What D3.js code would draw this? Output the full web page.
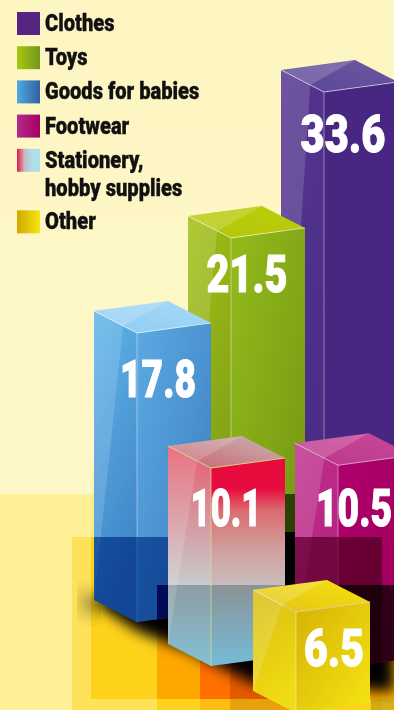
<!DOCTYPE html>
<html>
<head>
<meta charset="utf-8">
<script src="https://cdn.jsdelivr.net/npm/d3@7"></script>
<style>
html,body{margin:0;padding:0;background:#fff7c4;overflow:hidden}
svg{display:block}
text{font-family:Roboto,sans-serif;font-weight:900}
</style>
</head>
<body>
<svg id="chart" width="394" height="710"></svg>
<script>
// Share of purchases by category
const categories = ["Clothes","Toys","Goods for babies","Footwear","Stationery, hobby supplies","Other"];
const shares = [33.6,21.5,17.8,10.5,10.1,6.5];
const valueLabels = ["33.6","21.5","17.8","10.5","10.1","6.5"];
const legendLines = [["Clothes"],["Toys"],["Goods for babies"],["Footwear"],["Stationery,","hobby supplies"],["Other"]];
const legendSlots = [0,1,2,3,4,5.8];

const frontStops = [
  ["#482783","#472683"],["#93bb1c","#749612"],["#5caae2","#3a7cc0"],
  ["#b0006f","#990058"],null,["#d4b206","#f6e512"]];
const sideStops = [
  ["#553590","#4a2c86"],["#a2c012","#7e9e18"],["#5fb6ea","#3f84c6"],
  ["#c2308e","#b01f7c"],null,["#d8bc12","#f0dc14"]];
const topStops = [
  ["#5a4596","#6d58a2"],["#b4c60c","#bccd0a"],["#8fcbf2","#a8daf8"],
  ["#bc358c","#c84a96"],["#c9626c","#c9b6b6"],["#e2c216","#f6e210"]];
const swatchStops = [
  ["#55257f","#55257f"],["#a8c810","#73961c"],["#4faae2","#33609f"],
  ["#b62a8a","#a8005f"],["#e81640","#c4bcc4","#aedeea","#aedeea"],["#cfa800","#f8e612"]];
const stationeryFront = [[0.05,"#e80a3c"],[0.15,"#e60c40"],[0.25,"#dc6a6e"],[0.44,"#d0a09e"],[0.61,"#c8bcbc"],[0.61,"#8c9296"],[1,"#74bcd8"]];
const stationerySide = [[0,"#e65a6e"],[0.3,"#d89098"],[0.63,"#c6cccc"],[0.63,"#8c9ea4"],[1,"#84c0d2"]];

const svg = d3.select("#chart");
const defs = svg.append("defs");
const W = 394, H = 710;

// Screen placement of each column: front vertical edge and where it meets the floor
const frontX = d3.scaleOrdinal(categories,[324,231,137,338,211,296]);
const floorY = d3.scaleOrdinal(categories,[552,567,622,668,666,713]);
const heightOf = d3.scaleLinear().domain([6.5,10.1,17.8,33.6]).range([101,198,289,460]);
const labelX = d3.scaleOrdinal(categories,[343,247,158,354,226,334]);
const labelRise = d3.scaleOrdinal(categories,[60,54,64,61,58,54]);
const labelWidth = d3.scaleOrdinal(categories,[85,81,76,76,71,60]);

const leftVec = [-43,-22], rightVec = [74,-10];
const poly = d3.line();
const legendSqueeze = 0.875;

function gradient(id, stops, x1,y1,x2,y2){
  const g = defs.append("linearGradient").attr("id",id)
    .attr("x1",x1).attr("y1",y1).attr("x2",x2).attr("y2",y2);
  stops.forEach((c,i)=>{
    const s = Array.isArray(c) ? c : [i/(stops.length-1),c];
    g.append("stop").attr("offset",s[0]).attr("stop-color",s[1]);
  });
  return `url(#${id})`;
}
function blurFilter(id,sd){
  defs.append("filter").attr("id",id).attr("x","-30%").attr("y","-30%").attr("width","160%").attr("height","160%")
    .append("feGaussianBlur").attr("stdDeviation",sd);
}
blurFilter("soft",9);
blurFilter("softer",7);

// Backdrop and the flat colour panels on the floor
svg.append("rect").attr("width",W).attr("height",H).attr("fill",gradient("paper",["#fdf6c2","#fff8cc"],0,0,0,1));
const panel = (parent,x,y,w,h,fill)=>parent.append("rect").attr("x",x).attr("y",y).attr("width",w).attr("height",h)
  .attr("fill",fill).style("mix-blend-mode","multiply");
panel(svg,0,494,W,H-494,"#fff8bf");
panel(svg,91,472,W-91,65,"#fffbe4");
panel(svg,72,537,310,H-537,"#fff096");
panel(svg,382,537,12,H-537,"#fff8e0");
panel(svg,91,537,W-91,162,"#ffed4a");
panel(svg,157,585,W-157,114,"#ffcc00");
panel(svg,200,585,100,114,"#ffaa00");
panel(svg,230,585,70,114,"#e6cc00");
panel(svg,157,699,W-157,11,"#ffed4a");
panel(svg,200,699,100,11,"#ffe6a0");
panel(svg,230,699,70,11,"#e8d8c0");
panel(svg,371,699,W-371,11,"#d8d0a0");

function corners(i){
  const name = categories[i], h = heightOf(shares[i]);
  const x = frontX(name), base = floorY(name), top = base-h;
  return {
    F:[x,top], L:[x+leftVec[0],top+leftVec[1]], R:[x+rightVec[0],top+rightVec[1]],
    B:[x+leftVec[0]+rightVec[0],top+leftVec[1]+rightVec[1]],
    Fb:[x,base], Lb:[x+leftVec[0],base+leftVec[1]], Rb:[x+rightVec[0],base+rightVec[1]]
  };
}
function drawColumn(i){
  const {F,L,R,B,Fb,Lb,Rb} = corners(i);
  const g = svg.append("g");
  const isStationery = i===4;
  const sideFill = isStationery ? gradient("side"+i,stationerySide,0,0,0,1) : gradient("side"+i,sideStops[i],0,0,0.3,1);
  const frontFill = isStationery ? gradient("front"+i,stationeryFront,0,0,0,1) : gradient("front"+i,frontStops[i],0,0,1,1);
  g.append("path").attr("d",poly([L,F,Fb,Lb])+"Z").attr("fill",sideFill);
  g.append("path").attr("d",poly([F,R,Rb,Fb])+"Z").attr("fill",frontFill);
  g.append("path").attr("d",poly([L,B,R,F])+"Z").attr("fill",gradient("top"+i,topStops[i],0,1,1,0));
  // Gloss streak on the side face and the paler half of the lid
  const along = 0.68;
  const gloss = [L[0]+(F[0]-L[0])*along, L[1]+(F[1]-L[1])*along];
  g.append("path").attr("d",poly([L,gloss,Lb])+"Z").attr("fill","#fff").attr("opacity",0.15);
  g.append("path").attr("d",poly([L,B,gloss])+"Z").attr("fill","#fff").attr("opacity",0.17);
  // Bright seams along the near edges
  const seam = isStationery ? "#dfe08c" : "#fff";
  g.append("path").attr("d",poly([L,F,R])).attr("fill","none").attr("stroke",seam).attr("stroke-opacity",isStationery?0.85:0.55).attr("stroke-width",1);
  g.append("path").attr("d",poly([F,Fb])).attr("fill","none").attr("stroke",seam).attr("stroke-opacity",isStationery?0.7:0.42).attr("stroke-width",1);
}
// Darkens only the part of a column that lies inside the given band
function shadeColumn(i,x,y,w,h,fill){
  const {L,R,B,Fb,Lb,Rb} = corners(i);
  const id = "clip"+i+"-"+y;
  defs.append("clipPath").attr("id",id).append("path").attr("d",poly([L,B,R,Rb,Fb,Lb])+"Z");
  panel(svg,x,y,w,h,fill).attr("clip-path",`url(#${id})`);
}

// Rear columns
drawColumn(0);
drawColumn(1);

// Shadows falling behind the front columns
panel(svg,278,494,24,38,"#5a6a12");
svg.append("rect").attr("x",278).attr("y",532).attr("width",24).attr("height",70).attr("fill","#000");
svg.append("path").attr("d",poly([[92,601],[137,631],[190,652],[254,684],[300,686],[394,692],[394,590],[211,590],[120,590]])+"Z")
  .attr("fill","#000").attr("filter","url(#softer)");
svg.append("path").attr("d",poly([[82,588],[94,600],[96,618],[84,610]])+"Z")
  .attr("fill","#000").attr("filter","url(#soft)").attr("opacity",0.55);

// Middle columns with the translucent panels laid over them
drawColumn(2);
shadeColumn(2,72,537,310,H-537,"#4c88c0");
shadeColumn(2,157,585,W-157,114,"#182090");
drawColumn(3);
shadeColumn(3,72,537,310,H-537,"#a03080");
shadeColumn(3,157,585,W-157,114,"#4d0040");
drawColumn(4);

// Front cube sits above the panels
drawColumn(5);

// Value labels, each narrowed to its own condensed width
categories.forEach((name,i)=>{
  const top = floorY(name)-heightOf(shares[i]);
  const label = svg.append("text")
    .attr("text-anchor","middle").attr("font-size",52).attr("fill","#fff")
    .attr("stroke","#fff").attr("stroke-width",1)
    .text(valueLabels[i]);
  const squeeze = labelWidth(name)/label.node().getComputedTextLength();
  label.attr("transform",`translate(${labelX(name)},${top+labelRise(name)}) scale(${squeeze},1)`);
});

// Legend
const slot = d3.scaleLinear().domain([0,1]).range([30,64.2]);
categories.forEach((name,i)=>{
  const y = slot(legendSlots[i]);
  svg.append("rect").attr("x",17).attr("y",y-18).attr("width",23).attr("height",23)
    .attr("fill",gradient("swatch"+i,swatchStops[i],0,0,1,0));
  legendLines[i].forEach((line,k)=>{
    svg.append("text")
      .attr("transform",`translate(45,${y+1+k*28}) scale(${legendSqueeze},1)`)
      .attr("font-size",23).attr("fill","#111").attr("stroke","#111").attr("stroke-width",0.35).text(line);
  });
});
</script>
</body>
</html>
